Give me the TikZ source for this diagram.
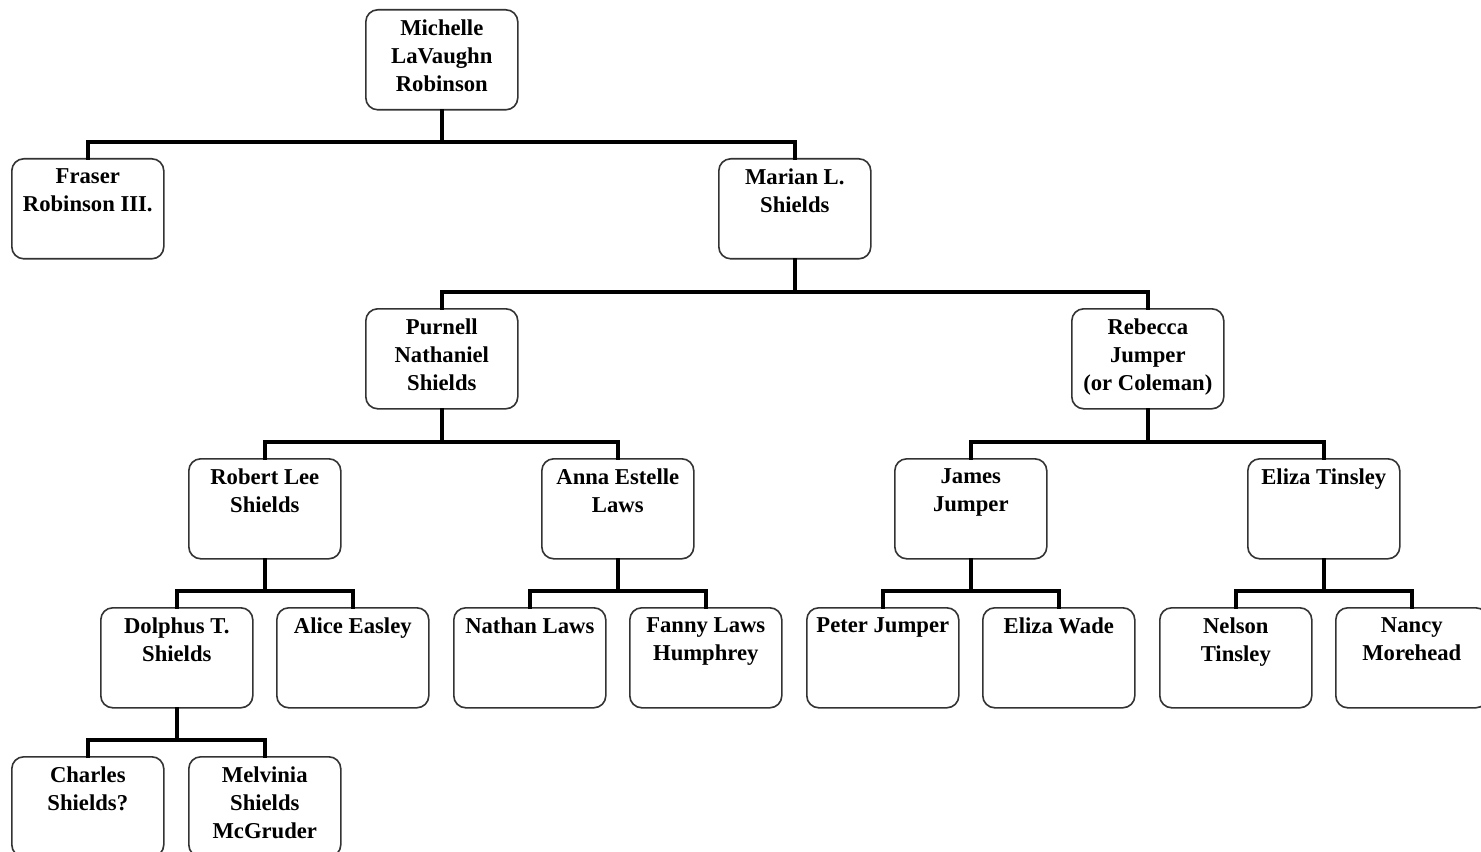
\documentclass[tikz,border=0pt]{standalone}
\usepackage{fontspec}
\setmainfont{Liberation Serif}
\usetikzlibrary{calc}
\newcommand{\bx}[1]{\parbox[c][75pt][t]{114pt}{\centering\vspace*{7.5pt}\fontsize{17pt}{21pt}\selectfont\bfseries #1\par}}
\tikzset{
  person/.style={draw=black!80, line width=1.2pt, rounded corners=9pt, inner sep=0pt, anchor=north west, fill=white},
  conn/.style={line width=3pt, line join=miter, line cap=rect}
}
\begin{document}
\begin{tikzpicture}[x=0.75pt,y=-0.75pt]
\useasboundingbox (0,0) rectangle (1481,852);
\clip (0,0) rectangle (1481,852);
\fill[white] (0,0) rectangle (1481,852);
% level 0
\node[person] (mi) at (365,9) {\bx{Michelle\\LaVaughn\\Robinson}};
% level 1
\node[person] (fr) at (11,158) {\bx{Fraser\\Robinson III.}};
\node[person] (ma) at (718,158) {\bx{Marian L.\\Shields}};
% level 2
\node[person] (pu) at (365,308) {\bx{Purnell\\Nathaniel\\Shields}};
\node[person] (re) at (1071,308) {\bx{Rebecca\\Jumper\\(or Coleman)}};
% level 3
\node[person] (ro) at (188,458) {\bx{Robert Lee\\Shields}};
\node[person] (an) at (541,458) {\bx{Anna Estelle\\Laws}};
\node[person] (ja) at (894,458) {\bx{James\\Jumper}};
\node[person] (et) at (1247,458) {\bx{Eliza Tinsley}};
% level 4
\node[person] (do) at (100,607) {\bx{Dolphus T.\\Shields}};
\node[person] (al) at (276,607) {\bx{Alice Easley}};
\node[person] (na) at (453,607) {\bx{Nathan Laws}};
\node[person] (fa) at (629,607) {\bx{Fanny Laws\\Humphrey}};
\node[person] (pe) at (806,607) {\bx{Peter Jumper}};
\node[person] (ew) at (982,607) {\bx{Eliza Wade}};
\node[person] (ne) at (1159,607) {\bx{Nelson\\Tinsley}};
\node[person] (nm) at (1335,607) {\bx{Nancy\\Morehead}};
% level 5
\node[person] (ch) at (11,756) {\bx{Charles\\Shields?}};
\node[person] (me) at (188,756) {\bx{Melvinia\\Shields\\McGruder}};
% connectors
\coordinate (b1) at ($(fr.north)+(0,-16)$);
\draw[conn] (fr.north) -- (b1) -| (ma.north);
\draw[conn] (mi.south) -- (mi.south |- b1);
\coordinate (b2) at ($(pu.north)+(0,-16)$);
\draw[conn] (pu.north) -- (b2) -| (re.north);
\draw[conn] (ma.south) -- (ma.south |- b2);
\coordinate (b3) at ($(ro.north)+(0,-16)$);
\draw[conn] (ro.north) -- (b3) -| (an.north);
\draw[conn] (pu.south) -- (pu.south |- b3);
\coordinate (b4) at ($(ja.north)+(0,-16)$);
\draw[conn] (ja.north) -- (b4) -| (et.north);
\draw[conn] (re.south) -- (re.south |- b4);
\coordinate (b5) at ($(do.north)+(0,-16)$);
\draw[conn] (do.north) -- (b5) -| (al.north);
\draw[conn] (ro.south) -- (ro.south |- b5);
\coordinate (b6) at ($(na.north)+(0,-16)$);
\draw[conn] (na.north) -- (b6) -| (fa.north);
\draw[conn] (an.south) -- (an.south |- b6);
\coordinate (b7) at ($(pe.north)+(0,-16)$);
\draw[conn] (pe.north) -- (b7) -| (ew.north);
\draw[conn] (ja.south) -- (ja.south |- b7);
\coordinate (b8) at ($(ne.north)+(0,-16)$);
\draw[conn] (ne.north) -- (b8) -| (nm.north);
\draw[conn] (et.south) -- (et.south |- b8);
\coordinate (b9) at ($(ch.north)+(0,-16)$);
\draw[conn] (ch.north) -- (b9) -| (me.north);
\draw[conn] (do.south) -- (do.south |- b9);
\end{tikzpicture}
\end{document}
